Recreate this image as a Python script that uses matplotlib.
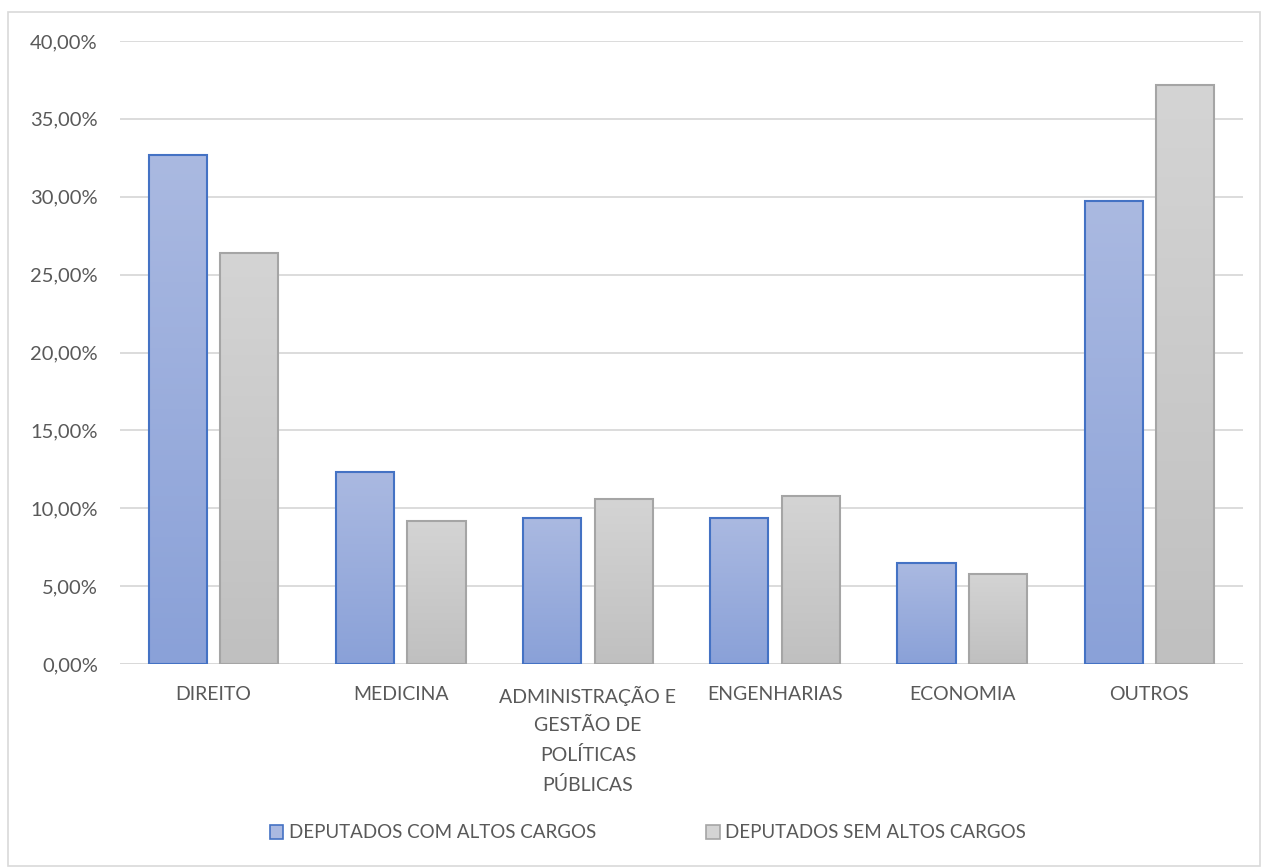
import numpy as np
import matplotlib
matplotlib.use("Agg")
import matplotlib.pyplot as plt
from matplotlib.patches import Rectangle
from matplotlib.ticker import FuncFormatter, MultipleLocator

plt.rcParams['font.family'] = ['Lato', 'DejaVu Sans']

categories = ["DIREITO", "MEDICINA", "ADMINISTRAÇÃO E\nGESTÃO DE\nPOLÍTICAS\nPÚBLICAS",
              "ENGENHARIAS", "ECONOMIA", "OUTROS"]
com_altos = [32.7, 12.35, 9.4, 9.4, 6.47, 29.7]
sem_altos = [26.4, 9.2, 10.6, 10.8, 5.8, 37.2]
series_names = ["DEPUTADOS COM ALTOS CARGOS", "DEPUTADOS SEM ALTOS CARGOS"]

TEXT = "#595959"
GRID = "#D9D9D9"
BLUE_EDGE = "#4472C4"
GRAY_EDGE = "#A5A5A5"
BLUE_GRAD = ("#AAB9E1", "#8AA1D8")
GRAY_GRAD = ("#D4D4D4", "#C0C0C0")

fig = plt.figure(figsize=(12.62, 8.68), dpi=100)
ax = fig.add_axes([120 / 1262, 1 - 664 / 868, (1243 - 120) / 1262, (664 - 41) / 868])

# frame round the whole chart
fig.patches.append(Rectangle((8 / 1262, 2 / 868), 1252 / 1262, 854 / 868, transform=fig.transFigure,
                             fill=False, edgecolor=GRID, linewidth=1.2))

x = np.arange(len(categories))
width = 0.31
off = 0.191


def gradient_bars(xs, vals, grad, edge):
    bars = ax.bar(xs, vals, width, facecolor="none", edgecolor=edge, linewidth=1.5, zorder=3)
    cmap = matplotlib.colors.LinearSegmentedColormap.from_list("g", [grad[1], grad[0]])
    for b in bars:
        x0, y0 = b.get_x(), b.get_y()
        w, h = b.get_width(), b.get_height()
        im = ax.imshow(np.linspace(0, 1, 100).reshape(-1, 1), cmap=cmap, origin="lower",
                       extent=[x0, x0 + w, y0, y0 + h], aspect="auto", zorder=2)
        im.set_clip_path(b)
    return bars


gradient_bars(x - off, com_altos, BLUE_GRAD, BLUE_EDGE)
gradient_bars(x + off, sem_altos, GRAY_GRAD, GRAY_EDGE)

ax.set_xlim(-0.5, len(categories) - 0.5)
ax.set_ylim(0, 40)
ax.yaxis.set_major_locator(MultipleLocator(5))
ax.yaxis.set_major_formatter(FuncFormatter(lambda v, p: f"{v:.2f}%".replace(".", ",")))
ax.grid(axis="y", color=GRID, linewidth=1.3, zorder=0)
ax.set_axisbelow(True)
for s in ax.spines.values():
    s.set_visible(False)
ax.axhline(0, color=GRID, linewidth=1.3, zorder=1)

ax.set_xticks(x)
ax.set_xticklabels(categories, va="top", ha="center", linespacing=1.78)
ax.tick_params(axis="both", length=0, colors=TEXT)
ax.tick_params(axis="x", pad=16, labelsize=14)
ax.tick_params(axis="y", pad=16, labelsize=14.5)

handles = [Rectangle((0, 0), 1, 1, facecolor=BLUE_GRAD[0], edgecolor=BLUE_EDGE, linewidth=1.2),
           Rectangle((0, 0), 1, 1, facecolor=GRAY_GRAD[0], edgecolor=GRAY_EDGE, linewidth=1.2)]
leg = fig.legend(handles, series_names, loc="center", bbox_to_anchor=(648 / 1262, 1 - 833 / 868), ncol=2,
                 frameon=False, fontsize=13.5, handlelength=0.7, handleheight=0.7, handletextpad=0.3,
                 columnspacing=5.9)
for t in leg.get_texts():
    t.set_color(TEXT)

fig.savefig("out.png", dpi=100)
